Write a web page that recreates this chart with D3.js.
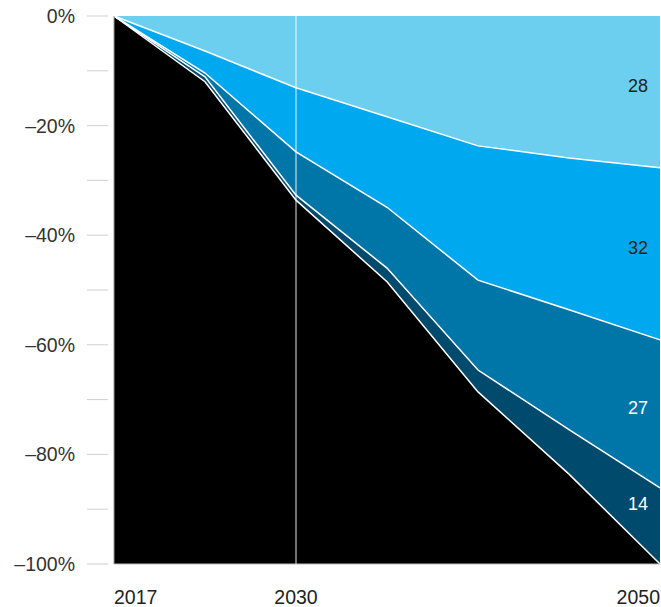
<!DOCTYPE html>
<html>
<head>
<meta charset="utf-8">
<script src="https://cdn.jsdelivr.net/npm/d3@7"></script>
<style>
  body { margin: 0; background: #fff; }
  svg text { font-family: "Liberation Sans", Arial, sans-serif; }
</style>
</head>
<body>
<div id="chart"></div>
<script>
// steps along the x axis (evenly spaced), only some get a label
var years = ['2017', '2025', '2030', '2035', '2040', '2045', '2050'];
var shownYears = ['2017', '2030', '2050'];

// reduction by layer, in % points (top layer first)
var lightBlue  = [0, 6.4, 13.1, 18.4, 23.7, 25.9, 27.7];
var brightBlue = [0, 4.0, 11.7, 16.5, 24.5, 27.7, 31.4];
var midBlue    = [0, 0.7, 7.9, 11.1, 16.4, 21.9, 27.0];
var darkBlue   = [0, 0.9, 0.9, 2.5, 4.0, 8.1, 13.9];
var remaining  = [100, 88.0, 66.4, 51.5, 31.4, 16.4, 0];

var layerNames = ['light', 'bright', 'mid', 'dark', 'rest'];
var layerLabels = ['28', '32', '27', '14', ''];
var yTicks = [0, -10, -20, -30, -40, -50, -60, -70, -80, -90, -100];

var colors = {
  light: '#6dcff0',
  bright: '#00a8f0',
  mid: '#0076a8',
  dark: '#004b6d',
  rest: '#000000'
};
var labelColors = { light: '#222', bright: '#222', mid: '#fff', dark: '#fff' };
// where the value label sits inside its band (0 = top edge, 1 = bottom edge)
var labelPos = { light: 0.46, bright: 0.465, mid: 0.46, dark: 0.2 };

var width = 661, height = 607;
// note: "top" is taken by window.top, so use m* names
var mLeft = 114, mRight = 660, mTop = 16, mBottom = 564;

var rows = years.map(function(y, i) {
  return { year: y, light: lightBlue[i], bright: brightBlue[i], mid: midBlue[i], dark: darkBlue[i], rest: remaining[i] };
});

// stack downwards from 0
var stack = d3.stack().keys(layerNames).offset(function(series, order) {
  var n = series[0].length;
  for (var j = 0; j < n; j++) {
    var s = 0;
    for (var k = 0; k < order.length; k++) {
      var p = series[order[k]][j];
      var v = p[1];
      p[0] = -s;
      s += v;
      p[1] = -s;
    }
  }
});
var series = stack(rows);

var x = d3.scalePoint().domain(years).range([mLeft, mRight]);
var y = d3.scaleLinear().domain([-100, 0]).range([mBottom, mTop]);

var svg = d3.select('#chart').append('svg').attr('width', width).attr('height', height);

// y ticks
svg.selectAll('.tick')
    .data(yTicks)
    .enter()
    .append('line')
    .attr('x1', 87).attr('x2', 108)
    .attr('y1', function(d) { return y(d); })
    .attr('y2', function(d) { return y(d); })
    .attr('stroke', '#cfcfcf')
    .attr('stroke-width', 1);

svg.selectAll('.ylab')
    .data(yTicks.filter(function(d) { return d % 20 === 0; }))
    .enter()
    .append('text')
    .attr('x', 75)
    .attr('y', function(d) { return y(d); })
    .attr('dy', '0.36em')
    .attr('text-anchor', 'end')
    .attr('font-size', 19.5)
    .attr('fill', '#333')
    .text(function(d) { return (d < 0 ? '\u2013' + (-d) : d) + '%'; });

var area = d3.area()
    .x(function(d) { return x(d.data.year); })
    .y0(function(d) { return y(d[0]); })
    .y1(function(d) { return y(d[1]); });

svg.selectAll('.layer')
    .data(series)
    .enter()
    .append('path')
    .attr('d', area)
    .attr('fill', function(d) { return colors[d.key]; });

// white separator lines on the lower edge of each layer
var edge = d3.line()
    .x(function(d) { return x(d.data.year); })
    .y(function(d) { return y(d[1]); });

svg.selectAll('.edge')
    .data(series.slice(0, 4))
    .enter()
    .append('path')
    .attr('d', edge)
    .attr('fill', 'none')
    .attr('stroke', '#fff')
    .attr('stroke-width', 1.5);

// frame lines
svg.append('line')
    .attr('x1', mLeft).attr('x2', mRight)
    .attr('y1', mBottom).attr('y2', mBottom)
    .attr('stroke', '#bbb');
svg.append('line')
    .attr('x1', mLeft).attr('x2', mLeft)
    .attr('y1', mTop).attr('y2', mBottom)
    .attr('stroke', '#999');

// 2030 marker
svg.append('line')
    .attr('x1', x('2030')).attr('x2', x('2030'))
    .attr('y1', mTop).attr('y2', mBottom)
    .attr('stroke', 'rgba(255,255,255,0.6)')
    .attr('stroke-width', 1.5);

// x labels
svg.selectAll('.xlab')
    .data(shownYears)
    .enter()
    .append('text')
    .attr('x', function(d) { return x(d); })
    .attr('y', 604)
    .attr('text-anchor', function(d, i) { return i === 0 ? 'start' : (i === shownYears.length - 1 ? 'end' : 'middle'); })
    .attr('font-size', 19.5)
    .attr('fill', '#222')
    .text(function(d) { return d; });

// values at the right end
svg.selectAll('.val')
    .data(series.slice(0, 4))
    .enter()
    .append('text')
    .attr('x', 648)
    .attr('y', function(d) {
      var last = d[d.length - 1];
      var f = labelPos[d.key];
      return y(last[0] + (last[1] - last[0]) * f);
    })
    .attr('dy', '0.36em')
    .attr('text-anchor', 'end')
    .attr('font-size', 18)
    .attr('fill', function(d) { return labelColors[d.key]; })
    .text(function(d, i) { return layerLabels[i]; });
</script>
</body>
</html>
